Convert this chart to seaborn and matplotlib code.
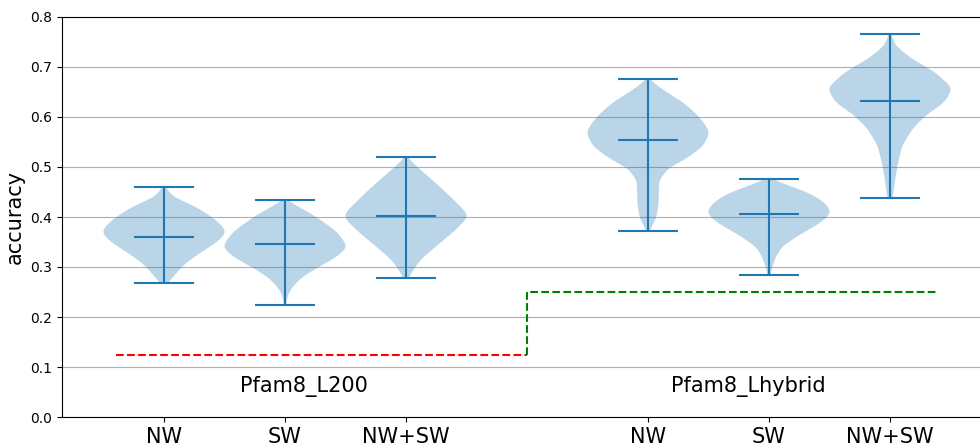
import numpy as np
import matplotlib
matplotlib.use("Agg")
import matplotlib.pyplot as plt
import seaborn as sns

# Tick labels and group names
conditions = ["NW", "SW", "NW+SW", "NW", "SW", "NW+SW"]
groups = ["Pfam8_L200", "Pfam8_Lhybrid"]
positions = [1, 2, 3, 5, 6, 7]

# Summary statistics of each accuracy distribution
acc_mean = [0.360, 0.347, 0.402, 0.553, 0.405, 0.631]
acc_min = [0.268, 0.225, 0.279, 0.371, 0.284, 0.437]
acc_max = [0.459, 0.433, 0.519, 0.675, 0.476, 0.766]

# Density outlines: accuracy levels and relative density at each level
dens_y = [
    [0.268, 0.28, 0.30, 0.31, 0.33, 0.35, 0.368, 0.38, 0.40, 0.42, 0.44, 0.459],
    [0.225, 0.238, 0.254, 0.278, 0.30, 0.318, 0.34, 0.37, 0.40, 0.424, 0.433],
    [0.279, 0.30, 0.314, 0.34, 0.374, 0.40, 0.408, 0.434, 0.468, 0.50, 0.519],
    [0.371, 0.38, 0.40, 0.428, 0.474, 0.498, 0.514, 0.54, 0.57, 0.60, 0.628, 0.654, 0.675],
    [0.284, 0.294, 0.318, 0.34, 0.364, 0.388, 0.408, 0.428, 0.448, 0.468, 0.476],
    [0.437, 0.464, 0.504, 0.544, 0.578, 0.604, 0.63, 0.658, 0.69, 0.718, 0.744, 0.766],
]
dens_w = [
    [0.05, 0.15, 0.28, 0.37, 0.60, 0.85, 1.00, 0.95, 0.77, 0.52, 0.15, 0.02],
    [0.02, 0.03, 0.08, 0.25, 0.53, 0.80, 1.00, 0.83, 0.50, 0.17, 0.02],
    [0.04, 0.15, 0.23, 0.47, 0.80, 1.00, 0.98, 0.77, 0.48, 0.18, 0.02],
    [0.02, 0.06, 0.14, 0.17, 0.18, 0.33, 0.58, 0.88, 1.00, 0.83, 0.58, 0.25, 0.02],
    [0.02, 0.04, 0.10, 0.20, 0.48, 0.82, 1.00, 0.90, 0.65, 0.20, 0.02],
    [0.04, 0.07, 0.12, 0.20, 0.37, 0.58, 0.88, 1.00, 0.72, 0.33, 0.08, 0.02],
]

# Chance levels for the two datasets
chance_x_l200 = [0.6, 4.0]
chance_y_l200 = [0.125, 0.125]
chance_x_hyb = [4.0, 4.0, 7.4]
chance_y_hyb = [0.125, 0.25, 0.25]


def smooth_outline(ys, ws, step=0.001, sigma=0.007):
    """Resample a density outline finely and round off its corners."""
    grid = np.arange(ys[0], ys[-1] + step / 2, step)
    vals = np.interp(grid, ys, ws)
    half = int(3 * sigma / step)
    k = np.exp(-0.5 * (np.arange(-half, half + 1) * step / sigma) ** 2)
    k /= k.sum()
    padded = np.pad(vals, half, mode="edge")
    vals = np.convolve(padded, k, mode="valid")
    vals[0], vals[-1] = ws[0], ws[-1]
    return grid, vals


fig = plt.figure(figsize=(9.8, 4.44), dpi=100)
ax = fig.add_axes([62 / 980, 27 / 444, 918 / 980, 400 / 444])

stats = []
for ys, ws, m, lo, hi in zip(dens_y, dens_w, acc_mean, acc_min, acc_max):
    coords, vals = smooth_outline(np.array(ys), np.array(ws))
    stats.append(dict(coords=coords, vals=vals, mean=m,
                      median=m, min=lo, max=hi))
ax.violin(stats, positions=positions, widths=1.0,
          showmeans=True, showextrema=True, showmedians=False)

sns.lineplot(x=chance_x_l200, y=chance_y_l200, ax=ax, color="red",
             linestyle="--", linewidth=1.5, sort=False, estimator=None)
sns.lineplot(x=chance_x_hyb, y=chance_y_hyb, ax=ax, color="green",
             linestyle="--", linewidth=1.5, sort=False, estimator=None)

ax.text(2.16, 0.05, groups[0], ha="center", va="baseline", fontsize=15)
ax.text(5.83, 0.05, groups[1], ha="center", va="baseline", fontsize=15)

ax.set_xticks(positions)
ax.set_xticklabels(conditions, fontsize=15)
ax.set_xlim(0.157, 7.744)
ax.set_ylim(0.0, 0.8)
ax.set_yticks(np.arange(0, 0.81, 0.1))
ax.yaxis.grid(True, color="#b0b0b0", linewidth=0.8)
ax.set_axisbelow(True)
ax.set_xlabel("")
ax.set_ylabel("accuracy", fontsize=15)
ax.spines["right"].set_visible(False)

fig.savefig("out.png", dpi=100)
